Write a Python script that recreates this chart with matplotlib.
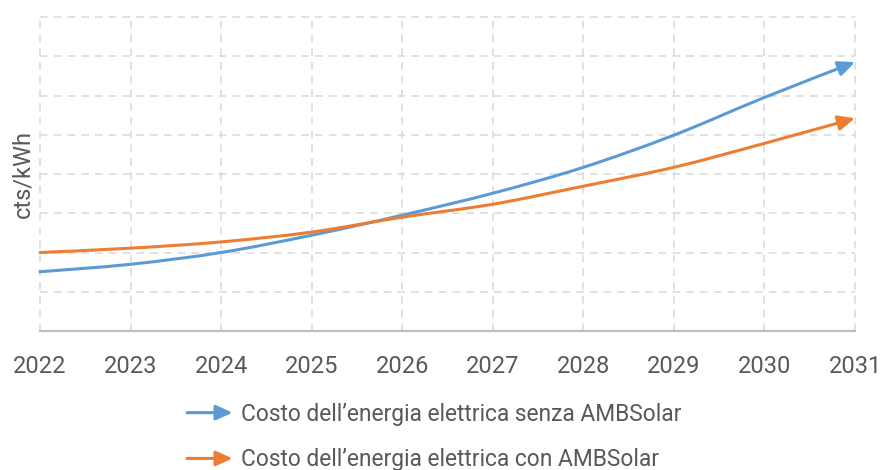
import matplotlib
matplotlib.use("Agg")
import matplotlib.pyplot as plt
from matplotlib.patches import FancyArrowPatch
from matplotlib.path import Path
from matplotlib.legend_handler import HandlerBase

years = [2022, 2023, 2024, 2025, 2026, 2027, 2028, 2029, 2030, 2031]
senza = [1.51, 1.70, 2.00, 2.44, 2.95, 3.51, 4.17, 4.99, 5.95, 6.85]
con = [2.00, 2.11, 2.27, 2.52, 2.90, 3.23, 3.69, 4.17, 4.78, 5.42]
labels = ["Costo dell\u2019energia elettrica senza AMBSolar",
          "Costo dell\u2019energia elettrica con AMBSolar"]
ylabel = "cts/kWh"

BLUE = "#5B9BD5"
ORANGE = "#ED7D31"
TXT = "#595959"
GRID = "#D9D9D9"

plt.rcParams['font.family'] = ['Roboto', 'DejaVu Sans']

fig = plt.figure(figsize=(8.8, 4.7), dpi=100)
ax = fig.add_axes([40/880, 1-331/470, (855-40)/880, (331-17)/470])

ARROW = '-|>,head_length=1.0,head_width=0.45'


def smooth_path(xs, ys):
    """Smoothed line (like a spreadsheet 'smoothed line') as cubic Bezier path."""
    pts = list(zip(xs, ys))
    n = len(pts)
    verts = [pts[0]]
    codes = [Path.MOVETO]
    for i in range(n - 1):
        p0 = pts[max(i - 1, 0)]
        p1 = pts[i]
        p2 = pts[i + 1]
        p3 = pts[min(i + 2, n - 1)]
        c1 = (p1[0] + (p2[0] - p0[0]) / 6, p1[1] + (p2[1] - p0[1]) / 6)
        c2 = (p2[0] - (p3[0] - p1[0]) / 6, p2[1] - (p3[1] - p1[1]) / 6)
        verts += [c1, c2, p2]
        codes += [Path.CURVE4] * 3
    return Path(verts, codes)


handles = []
for vals, col, lab in [(senza, BLUE, labels[0]), (con, ORANGE, labels[1])]:
    patch = FancyArrowPatch(path=smooth_path(years, vals), arrowstyle=ARROW,
                            mutation_scale=10, color=col, lw=2.2,
                            transform=ax.transData, zorder=3, clip_on=False)
    ax.add_patch(patch)
    ln, = ax.plot([], [], color=col, lw=2.2, label=lab)
    handles.append(ln)

ax.set_xlim(years[0], years[-1])
ax.set_ylim(0, 8)
ax.set_xticks(years)
ax.set_yticks(range(0, 9))
ax.set_yticklabels([])
ax.tick_params(axis='both', length=0, labelsize=17, colors=TXT)
ax.tick_params(axis='x', pad=17)
ax.grid(True, color=GRID, lw=1.1, ls=(0, (5, 4)))
for gl in ax.get_xgridlines() + ax.get_ygridlines():
    gl.set_clip_on(False)
ax.set_axisbelow(True)
for s in ['top', 'left', 'right']:
    ax.spines[s].set_visible(False)
ax.spines['bottom'].set_color('#BFBFBF')
ax.spines['bottom'].set_linewidth(1.6)
ax.spines['bottom'].set_zorder(2.5)
ax.set_ylabel(ylabel, fontsize=17, color=TXT, labelpad=0.5)


class HandlerArrow(HandlerBase):
    def create_artists(self, legend, orig_handle, xdescent, ydescent,
                       width, height, fontsize, trans):
        y = height / 2 - ydescent
        p = FancyArrowPatch((-xdescent, y), (width - xdescent, y),
                            arrowstyle=ARROW, mutation_scale=10,
                            color=orig_handle.get_color(), lw=2.2,
                            shrinkA=0, shrinkB=0, transform=trans)
        return [p]


leg = fig.legend(handles=handles, labels=labels, loc='center',
                 bbox_to_anchor=(434/880, 1-437/470), frameon=False,
                 fontsize=16.4, labelcolor=TXT, handlelength=2.0,
                 handletextpad=0.35, labelspacing=1.0,
                 handler_map={h: HandlerArrow() for h in handles})

fig.savefig("out.png", dpi=100)
